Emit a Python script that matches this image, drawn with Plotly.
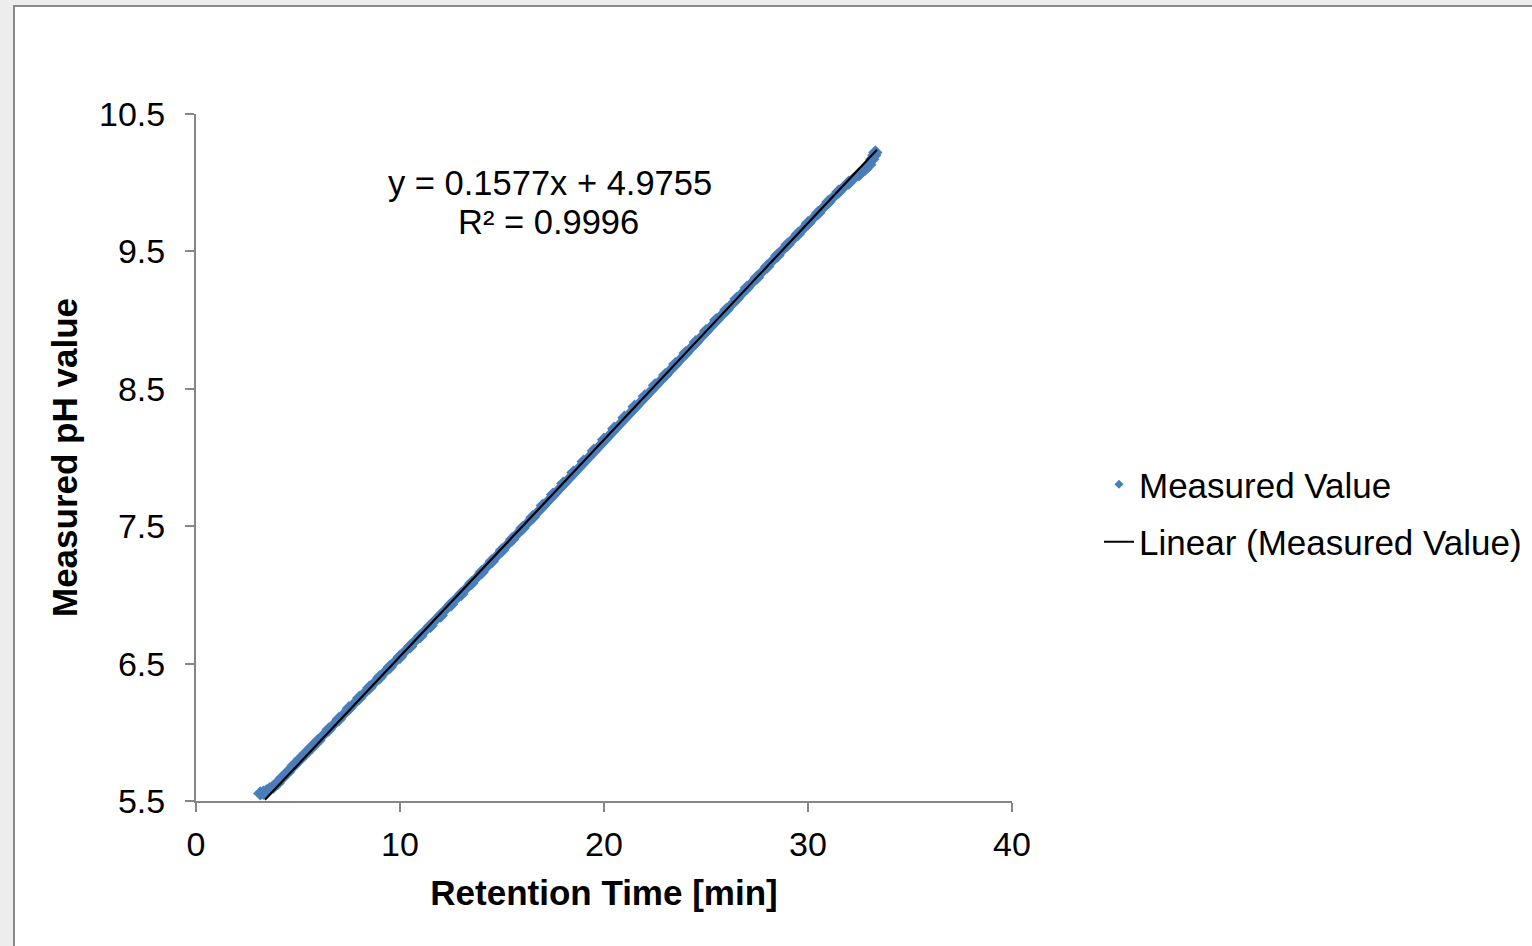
import plotly.graph_objects as go

retention_time = [3.15, 3.3, 3.45, 3.6, 3.8, 4.0, 4.2, 4.5, 4.8, 5.1, 5.4, 5.7, 6.0, 6.5, 7.0, 7.5,
                  8.0, 8.5, 9.0, 9.5, 10.0, 10.5, 11.0, 11.5, 12.0, 12.5, 13.0, 13.5, 14.0, 14.5,
                  15.0, 15.5, 16.0, 16.5, 17.0, 17.5, 18.0, 18.5, 19.0, 19.5, 20.0, 20.5, 21.0,
                  21.5, 22.0, 22.5, 23.0, 23.5, 24.0, 24.5, 25.0, 25.5, 26.0, 26.5, 27.0, 27.5,
                  28.0, 28.5, 29.0, 29.5, 30.0, 30.5, 31.0, 31.5, 32.0, 32.5, 32.8, 33.0, 33.15,
                  33.25, 33.3]
measured_ph = [5.555, 5.56, 5.57, 5.585, 5.605, 5.63, 5.665, 5.71, 5.76, 5.805, 5.85, 5.895, 5.94,
               6.02, 6.095, 6.175, 6.25, 6.325, 6.40, 6.475, 6.55, 6.625, 6.70, 6.775, 6.85, 6.93,
               7.005, 7.085, 7.165, 7.245, 7.325, 7.405, 7.485, 7.565, 7.65, 7.73, 7.81, 7.89,
               7.97, 8.05, 8.13, 8.21, 8.29, 8.37, 8.445, 8.525, 8.60, 8.68, 8.76, 8.84, 8.92,
               9.00, 9.075, 9.155, 9.235, 9.31, 9.39, 9.47, 9.55, 9.625, 9.705, 9.78, 9.86,
               9.935, 10.00, 10.06, 10.10, 10.13, 10.17, 10.20, 10.22]

# Linear trendline as given by the chart's equation
slope = 0.1577
intercept = 4.9755
trend_x = [3.38, 33.38]
trend_y = [slope * v + intercept for v in trend_x]

x_ticks = [0, 10, 20, 30, 40]
y_ticks = [5.5, 6.5, 7.5, 8.5, 9.5, 10.5]

BLUE = "#4A7EBB"
AXIS = "#868686"
FONT = "Liberation Sans, Arial, sans-serif"

fig = go.Figure()

fig.add_trace(go.Scatter(
    x=retention_time, y=measured_ph, mode="lines+markers",
    line=dict(color=BLUE, width=9),
    marker=dict(symbol="diamond", size=11, color=BLUE),
    showlegend=False, hoverinfo="x+y",
))
fig.add_trace(go.Scatter(
    x=trend_x, y=trend_y, mode="lines",
    line=dict(color="black", width=2.2),
    showlegend=False,
))
# legend entries
fig.add_trace(go.Scatter(
    x=[None], y=[None], mode="markers", name="Measured Value",
    marker=dict(symbol="diamond", size=7, color=BLUE),
    legendgroup="a",
))
fig.add_trace(go.Scatter(
    x=[None], y=[None], mode="lines", name="Linear (Measured Value)",
    line=dict(color="black", width=2),
    legendgroup="b",
))

fig.add_annotation(x=17.35, y=9.998, xref="x", yref="y", text="y = 0.1577x + 4.9755",
                   showarrow=False, font=dict(size=34.5, color="black", family=FONT))
fig.add_annotation(x=17.3, y=9.714, xref="x", yref="y", text="R² = 0.9996",
                   showarrow=False, font=dict(size=34.5, color="black", family=FONT))

# chart area frame
fig.add_shape(type="rect", xref="paper", yref="paper",
              x0=(14 - 196) / 816, x1=(1545 - 196) / 816,
              y0=(801 - 960) / 687, y1=(801 - 6) / 687,
              fillcolor="white", line=dict(color="#8a8a8a", width=2), layer="below")

fig.update_layout(
    width=1532, height=946,
    margin=dict(l=196, r=520, t=114, b=145),
    paper_bgcolor="#ededed", plot_bgcolor="white",
    font=dict(family=FONT, size=34, color="black"),
    legend=dict(xref="container", yref="container",
                x=1099 / 1532, xanchor="left", y=(946 - 513) / 946, yanchor="middle",
                font=dict(size=35, family=FONT), tracegroupgap=9, bgcolor="rgba(0,0,0,0)"),
    xaxis=dict(range=[0, 40], tickvals=x_ticks, ticks="outside", ticklen=9, tickwidth=2,
               tickcolor=AXIS, showline=True, linecolor=AXIS, linewidth=2, showgrid=False,
               zeroline=False, tickfont=dict(size=34), ticklabelstandoff=3,
               title=dict(text="<b>Retention Time [min]</b>", font=dict(size=35), standoff=19)),
    yaxis=dict(range=[5.5, 10.5], tickvals=y_ticks, ticks="outside", ticklen=9, tickwidth=2,
               tickcolor=AXIS, showline=True, linecolor=AXIS, linewidth=2, showgrid=False,
               zeroline=False, tickfont=dict(size=34), ticklabelstandoff=13,
               title=dict(text="<b>Measured pH value</b>", font=dict(size=35), standoff=11)),
)

fig.write_html("out.html")
